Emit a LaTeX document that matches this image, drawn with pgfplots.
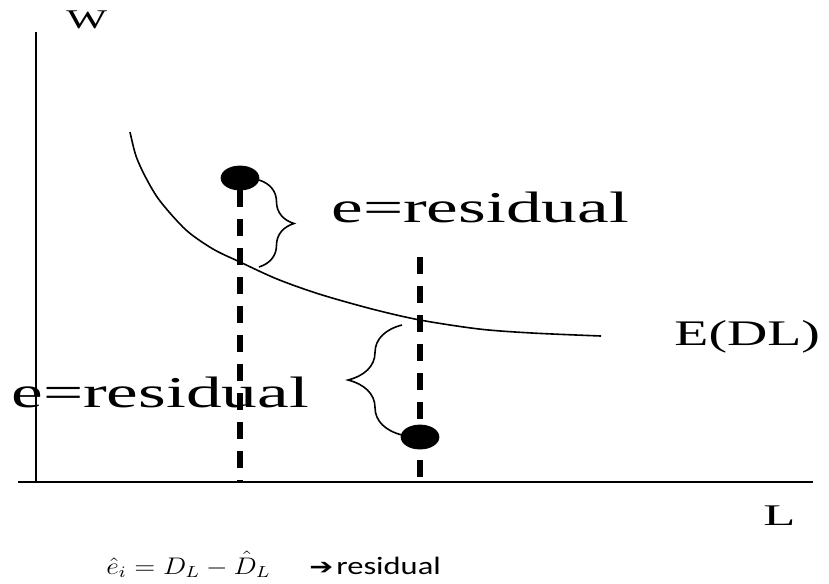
\documentclass[border=0pt]{standalone}
\usepackage{pgfplots}
\pgfplotsset{compat=1.18}
\usepackage{fontspec}
\setmainfont{Liberation Serif}
\newfontfamily\calibri{Carlito}
\newfontfamily\dejavu{DejaVu Sans}
\usetikzlibrary{decorations.pathreplacing}
\begin{document}
\begin{tikzpicture}
\begin{axis}[scale only axis, width=414.5pt, height=291.5pt,
  xmin=0, xmax=829, ymin=0, ymax=583, y dir=reverse, hide axis, clip=false]
% texts
\node[anchor=base west, inner sep=0pt] at (axis cs:66,28) {\fontsize{13.5}{16}\selectfont\scalebox{1.6}[1]{W}};
\node[anchor=base west, inner sep=0pt] at (axis cs:331,222) {\fontsize{22}{26}\selectfont\scalebox{1.62}[1]{e=residual}};
\node[anchor=base west, inner sep=0pt] at (axis cs:11,407) {\fontsize{22}{26}\selectfont\scalebox{1.62}[1]{e=residual}};
\node[anchor=base west, inner sep=0pt] at (axis cs:674,345) {\fontsize{18}{22}\selectfont\scalebox{1.55}[1]{E(DL)}};
\node[anchor=base west, inner sep=0pt] at (axis cs:763,525) {\fontsize{15}{18}\selectfont\scalebox{1.75}[1]{L}};
\node[anchor=base west, inner sep=0pt] at (axis cs:106,574) {\fontsize{12}{14}\selectfont\scalebox{1.15}[1]{$\hat{e}_i = D_L - \hat{D}_L$}};
\node[anchor=base west, inner sep=0pt] at (axis cs:309,574) {\fontsize{11}{13}\selectfont\scalebox{1.3}[1]{\dejavu ➔}};
\node[anchor=base west, inner sep=0pt] at (axis cs:336,574) {\fontsize{12.5}{15}\selectfont\scalebox{1.3}[1]{\calibri residual}};
% axes
\addplot[black, line width=1.4pt] coordinates {(36,32) (36,482)};
\addplot[black, line width=1.1pt] coordinates {(18,482) (813,482)};
% curve E(DL)
\addplot[black, line width=0.8pt, smooth] coordinates {
(130,132) (136,156) (146,178) (160,201) (186,230) (213,249) (240,262)
(277,279) (319,294) (372,309) (420,320) (479,329) (532,333) (601,336)};
% dashed lines
\addplot[black, line width=2.8pt, dash pattern=on 8.5pt off 6pt] coordinates {(240,190) (240,482)};
\addplot[black, line width=2.8pt, dash pattern=on 8.5pt off 6pt] coordinates {(420,257) (420,482)};
% observations
\addplot[only marks, mark=*, mark size=6pt, mark options={xscale=1.58, fill=black, draw=black}] coordinates {(240,178) (420,437)};
% braces
\draw[decorate, decoration={brace, amplitude=17.5pt}, line width=0.8pt] (axis cs:259,180) -- (axis cs:259,267);
\draw[decorate, decoration={brace, amplitude=27pt}, line width=0.8pt] (axis cs:402,435) -- (axis cs:402,325);
\end{axis}
\pgfresetboundingbox
\path[use as bounding box] (current axis.south west) rectangle (current axis.north east);
\end{tikzpicture}
\end{document}
